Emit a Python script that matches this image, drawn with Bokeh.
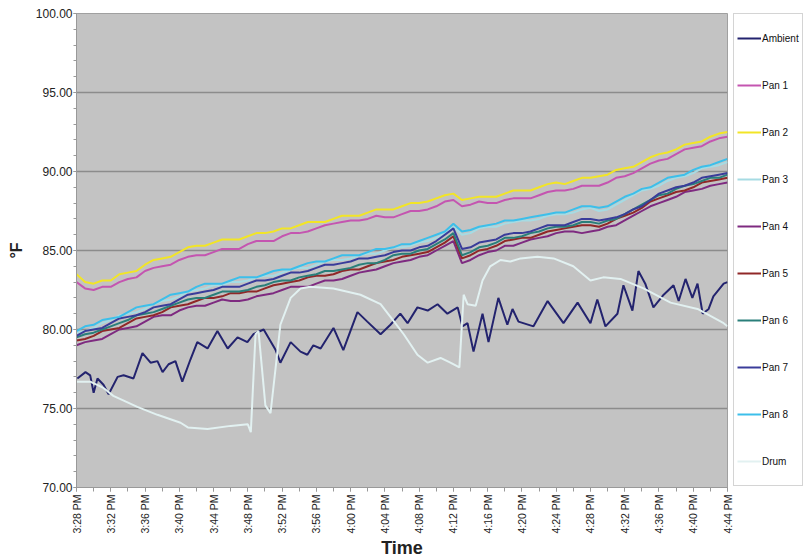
from bokeh.plotting import figure
from bokeh.layouts import row
from bokeh.models import FixedTicker, Range1d, Legend, LegendItem, NumeralTickFormatter
from bokeh.embed import file_html
from bokeh.resources import INLINE
import math

# ---------------- data (x = minutes after 3:28 PM) ----------------
tick_minutes = [0, 4, 8, 12, 16, 20, 24, 28, 32, 36, 40, 44, 48, 52, 56, 60, 64, 68, 72, 76]
tick_labels = ["3:28 PM", "3:32 PM", "3:36 PM", "3:40 PM", "3:44 PM", "3:48 PM", "3:52 PM",
               "3:56 PM", "4:00 PM", "4:04 PM", "4:08 PM", "4:12 PM", "4:16 PM", "4:20 PM",
               "4:24 PM", "4:28 PM", "4:32 PM", "4:36 PM", "4:40 PM", "4:44 PM"]
y_ticks = [70, 75, 80, 85, 90, 95, 100]

pan_t = list(range(0, 77))  # one reading per minute

pan1 = [83.0, 82.6, 82.5, 82.7, 82.7, 83.0, 83.2, 83.3, 83.7, 83.9,
        84.0, 84.1, 84.4, 84.6, 84.7, 84.7, 84.9, 85.1, 85.1, 85.1,
        85.4, 85.6, 85.6, 85.6, 85.9, 86.1, 86.1, 86.2, 86.4, 86.6,
        86.7, 86.8, 86.9, 86.9, 87.0, 87.2, 87.1, 87.1, 87.3, 87.5,
        87.5, 87.6, 87.8, 88.1, 88.2, 87.8, 87.9, 88.1, 88.0, 88.0,
        88.2, 88.3, 88.3, 88.3, 88.5, 88.7, 88.8, 88.8, 88.9, 89.1,
        89.1, 89.1, 89.3, 89.6, 89.7, 89.9, 90.2, 90.5, 90.7, 90.8,
        91.1, 91.4, 91.5, 91.6, 91.9, 92.1, 92.2]
pan2 = [83.5, 83.0, 82.9, 83.1, 83.1, 83.5, 83.6, 83.7, 84.1, 84.4,
        84.5, 84.6, 84.9, 85.2, 85.3, 85.3, 85.5, 85.7, 85.7, 85.7,
        85.9, 86.1, 86.1, 86.2, 86.4, 86.4, 86.6, 86.8, 86.8, 86.8,
        87.0, 87.2, 87.2, 87.2, 87.4, 87.6, 87.6, 87.6, 87.8, 88.0,
        88.0, 88.1, 88.3, 88.5, 88.6, 88.2, 88.3, 88.4, 88.4, 88.4,
        88.6, 88.8, 88.8, 88.8, 89.0, 89.2, 89.3, 89.2, 89.4, 89.6,
        89.6, 89.7, 89.8, 90.1, 90.2, 90.3, 90.6, 90.9, 91.1, 91.2,
        91.4, 91.7, 91.8, 91.9, 92.2, 92.4, 92.5]
pan3 = [79.8, 79.9, 80.1, 80.4, 80.6, 80.9, 81.0, 81.1, 81.3, 81.6,
        81.8, 81.9, 82.1, 82.4, 82.5, 82.6, 82.8, 82.8, 83.0, 83.0,
        83.1, 83.3, 83.4, 83.4, 83.6, 83.8, 83.9, 83.9, 84.1, 84.3,
        84.4, 84.4, 84.5, 84.7, 84.8, 84.8, 85.0, 85.2, 85.2, 85.3,
        85.5, 85.6, 85.8, 86.1, 86.5, 86.0, 86.1, 86.4, 86.5, 86.5,
        86.7, 86.8, 86.9, 86.9, 87.0, 87.2, 87.3, 87.3, 87.4, 87.6,
        87.7, 87.5, 87.6, 87.9, 88.2, 88.5, 88.8, 88.9, 89.1, 89.4,
        89.6, 89.7, 89.9, 90.2, 90.3, 90.4, 90.6]
pan4 = [79.0, 79.2, 79.3, 79.4, 79.7, 80.0, 80.1, 80.2, 80.5, 80.8,
        80.9, 80.9, 81.2, 81.4, 81.5, 81.5, 81.7, 81.9, 81.8, 81.8,
        81.9, 82.1, 82.2, 82.3, 82.5, 82.7, 82.7, 82.7, 82.9, 83.1,
        83.1, 83.2, 83.4, 83.6, 83.7, 83.8, 84.0, 84.2, 84.3, 84.4,
        84.6, 84.7, 85.0, 85.3, 85.6, 84.2, 84.4, 84.7, 84.9, 85.0,
        85.3, 85.3, 85.5, 85.7, 85.8, 85.9, 86.1, 86.2, 86.2, 86.1,
        86.2, 86.3, 86.5, 86.6, 86.9, 87.2, 87.5, 87.8, 88.0, 88.2,
        88.4, 88.7, 88.8, 88.9, 89.1, 89.2, 89.3]
pan5 = [79.3, 79.4, 79.6, 79.9, 80.0, 80.1, 80.4, 80.7, 80.8, 80.9,
        81.1, 81.4, 81.5, 81.6, 81.8, 82.0, 82.0, 82.1, 82.3, 82.3,
        82.4, 82.4, 82.6, 82.8, 82.9, 83.0, 83.1, 83.3, 83.4, 83.4,
        83.5, 83.7, 83.8, 83.8, 84.0, 84.2, 84.3, 84.4, 84.6, 84.7,
        84.8, 84.9, 85.2, 85.5, 85.9, 84.5, 84.7, 85.0, 85.1, 85.3,
        85.6, 85.7, 85.8, 85.8, 86.0, 86.2, 86.3, 86.4, 86.5, 86.6,
        86.6, 86.5, 86.7, 87.0, 87.2, 87.4, 87.7, 88.1, 88.3, 88.5,
        88.7, 88.8, 89.0, 89.3, 89.4, 89.5, 89.6]
pan6 = [79.5, 79.7, 79.8, 80.0, 80.2, 80.4, 80.6, 80.9, 81.0, 81.1,
        81.3, 81.5, 81.7, 81.9, 82.0, 82.0, 82.2, 82.4, 82.4, 82.4,
        82.5, 82.7, 82.8, 83.0, 83.1, 83.1, 83.3, 83.4, 83.5, 83.7,
        83.7, 83.8, 83.9, 84.1, 84.2, 84.2, 84.4, 84.7, 84.8, 84.8,
        85.0, 85.1, 85.4, 85.7, 86.1, 84.7, 84.9, 85.2, 85.3, 85.5,
        85.8, 85.8, 85.9, 86.1, 86.2, 86.4, 86.5, 86.5, 86.6, 86.8,
        86.8, 86.7, 86.9, 87.0, 87.3, 87.6, 87.9, 88.2, 88.5, 88.6,
        88.9, 89.1, 89.2, 89.4, 89.6, 89.6, 89.8]
pan7 = [79.6, 79.9, 80.0, 80.1, 80.4, 80.7, 80.8, 80.9, 81.1, 81.4,
        81.5, 81.6, 81.9, 82.2, 82.3, 82.4, 82.5, 82.7, 82.7, 82.7,
        82.9, 83.1, 83.1, 83.2, 83.4, 83.6, 83.6, 83.7, 83.9, 84.1,
        84.1, 84.2, 84.3, 84.5, 84.5, 84.6, 84.7, 84.9, 85.0, 85.0,
        85.2, 85.3, 85.6, 86.0, 86.4, 85.1, 85.2, 85.5, 85.6, 85.7,
        86.0, 86.1, 86.1, 86.2, 86.4, 86.6, 86.6, 86.6, 86.8, 87.0,
        87.0, 86.9, 87.0, 87.1, 87.3, 87.6, 87.8, 88.2, 88.6, 88.8,
        89.0, 89.1, 89.3, 89.6, 89.7, 89.8, 89.9]
pan8 = [79.9, 80.2, 80.3, 80.6, 80.7, 80.8, 81.1, 81.4, 81.5, 81.6,
        81.9, 82.2, 82.3, 82.4, 82.7, 82.9, 82.9, 82.9, 83.1, 83.3,
        83.3, 83.3, 83.5, 83.7, 83.8, 83.8, 84.0, 84.2, 84.3, 84.3,
        84.5, 84.7, 84.7, 84.7, 84.9, 85.1, 85.1, 85.2, 85.4, 85.4,
        85.6, 85.8, 86.0, 86.2, 86.7, 86.2, 86.3, 86.5, 86.6, 86.7,
        86.9, 86.9, 87.0, 87.1, 87.2, 87.3, 87.4, 87.4, 87.6, 87.8,
        87.8, 87.7, 87.8, 88.1, 88.4, 88.6, 88.9, 89.0, 89.3, 89.6,
        89.7, 89.8, 90.1, 90.3, 90.4, 90.6, 90.8]

ambient_t = [0.1, 1.05, 1.6, 2.0, 2.45, 3.15, 3.75, 4.8, 5.5, 6.65, 7.7, 8.65, 9.45, 10.05,
             10.75, 11.55, 12.35, 13.3, 14.1, 15.3, 16.45, 17.65, 18.8, 19.95, 20.65, 21.85,
             23.25, 23.8, 25.0, 26.15, 26.95, 27.65, 28.5, 30.0, 31.15, 32.8, 33.95, 35.5,
             36.65, 37.8, 38.65, 39.8, 41.0, 42.15, 43.3, 44.5, 45.05, 45.65, 46.35, 47.4,
             48.1, 49.25, 50.3, 50.9, 51.6, 53.35, 55.0, 56.85, 58.5, 60.0, 60.8, 61.75,
             63.15, 63.85, 64.9, 65.6, 66.4, 67.35, 68.55, 69.7, 70.3, 71.1, 71.9, 72.5,
             73.1, 73.8, 74.35, 75.55, 76.0]
ambient = [76.9, 77.3, 77.1, 76.0, 76.9, 76.5, 75.9, 77.0, 77.1, 76.9, 78.5, 77.9, 78.0, 77.3,
           77.8, 78.0, 76.7, 78.1, 79.2, 78.8, 79.9, 78.8, 79.5, 79.2, 79.7, 80.0,
           78.7, 77.9, 79.2, 78.6, 78.4, 79.0, 78.8, 80.1, 78.7, 81.1, 80.5, 79.7,
           80.3, 81.0, 80.4, 81.4, 81.2, 81.6, 81.0, 81.4, 80.2, 80.4, 78.6, 81.0,
           79.2, 82.0, 80.3, 81.3, 80.5, 80.2, 81.8, 80.4, 81.7, 80.4, 81.9, 80.2,
           81.0, 82.8, 81.2, 83.7, 82.9, 81.4, 82.2, 82.8, 81.8, 83.2, 82.0, 82.9,
           81.0, 81.3, 82.1, 82.9, 83.0]

drum_t = [0.0, 1.6, 3.15, 4.3, 7.1, 9.45, 12.15, 13.0, 15.3, 18.0, 20.0, 20.35, 20.9, 21.25,
          22.05, 22.65, 23.25, 23.8, 25.0, 26.15, 27.3, 30.0, 33.15, 35.5, 36.65, 38.2,
          39.8, 41.0, 42.5, 43.65, 44.7, 45.2, 45.65, 46.6, 47.4, 48.3, 49.5, 50.65, 51.85,
          53.8, 55.7, 58.0, 60.0, 61.5, 63.5, 66.2, 69.35, 72.5, 75.55, 76.0]
drum = [76.7, 76.7, 76.3, 75.8, 75.1, 74.6, 74.1, 73.8, 73.7, 73.9, 74.0, 73.5, 79.7, 79.9,
        75.2, 74.7, 77.6, 80.3, 82.0, 82.6, 82.7, 82.6, 82.2, 81.6, 80.8, 79.7,
        78.4, 77.9, 78.2, 77.9, 77.6, 82.2, 81.6, 81.5, 83.1, 84.0, 84.4, 84.3, 84.5,
        84.6, 84.5, 84.0, 83.1, 83.3, 83.2, 82.6, 81.7, 81.3, 80.4, 80.2]

series_names = ["Ambient", "Pan 1", "Pan 2", "Pan 3", "Pan 4", "Pan 5", "Pan 6", "Pan 7", "Pan 8", "Drum"]
series_colors = ["#23236e", "#c455b0", "#f2e526", "#a6dbe3", "#7e2a80", "#902828",
                 "#2a7f7a", "#3a3c9a", "#3cbfea", "#e2f1f1"]
series_x = [ambient_t, pan_t, pan_t, pan_t, pan_t, pan_t, pan_t, pan_t, pan_t, drum_t]
series_y = [ambient, pan1, pan2, pan3, pan4, pan5, pan6, pan7, pan8, drum]

FONT = "Liberation Sans"

# ---------------- main chart ----------------
p = figure(width=733, height=560, x_range=Range1d(0, 76), y_range=Range1d(70, 100),
           output_backend="svg", toolbar_location=None,
           min_border_left=76, min_border_top=13, min_border_right=6, min_border_bottom=0)
p.background_fill_color = "#c3c3c3"
p.border_fill_color = "white"
p.outline_line_color = "#a0a0a0"
p.outline_line_width = 1

p.xaxis.ticker = FixedTicker(ticks=tick_minutes, minor_ticks=list(range(0, 77, 2)))
p.xaxis.major_label_overrides = {m: lab for m, lab in zip(tick_minutes, tick_labels)}
p.xaxis.major_label_orientation = math.pi / 2
p.xaxis.major_label_text_font = FONT
p.xaxis.major_label_text_font_size = "10.5px"
p.xaxis.major_label_text_color = "#222222"
p.xaxis.major_label_standoff = 3
p.xaxis.major_tick_in = 0
p.xaxis.major_tick_out = 4
p.xaxis.minor_tick_in = 0
p.xaxis.minor_tick_out = 4
p.xaxis.axis_label = "Time"
p.xaxis.axis_label_text_font = FONT
p.xaxis.axis_label_text_font_style = "bold"
p.xaxis.axis_label_text_font_size = "18px"
p.xaxis.axis_label_text_color = "#222222"
p.xaxis.axis_label_standoff = 1

p.yaxis.ticker = FixedTicker(ticks=y_ticks, minor_ticks=list(range(70, 101)))
p.yaxis.formatter = NumeralTickFormatter(format="0.00")
p.yaxis.major_label_text_font = FONT
p.yaxis.major_label_text_font_size = "12px"
p.yaxis.major_label_text_color = "#222222"
p.yaxis.major_label_standoff = 1
p.yaxis.major_tick_in = 0
p.yaxis.major_tick_out = 3
p.yaxis.minor_tick_in = 0
p.yaxis.minor_tick_out = 3
p.yaxis.axis_label = "°F"
p.yaxis.axis_label_text_font = FONT
p.yaxis.axis_label_text_font_style = "bold"
p.yaxis.axis_label_text_font_size = "16px"
p.yaxis.axis_label_text_color = "#222222"
p.yaxis.axis_label_standoff = 8

for ax in (p.xaxis, p.yaxis):
    ax.axis_line_color = "#999999"
    ax.major_tick_line_color = "#999999"
    ax.minor_tick_line_color = "#999999"

p.xgrid.visible = False
p.ygrid.ticker = FixedTicker(ticks=[75, 80, 85, 90, 95])
p.ygrid.grid_line_color = "#8c8c8c"
p.ygrid.grid_line_width = 1.5

for col, xs, ys in zip(series_colors, series_x, series_y):
    p.line(xs, ys, line_color=col, line_width=2)

# ---------------- legend panel (its ranges keep the series out of view) ----------------
pl = figure(width=71, height=560, x_range=Range1d(200, 201), y_range=Range1d(0, 1),
            output_backend="svg", toolbar_location=None,
            x_axis_location=None, y_axis_location=None,
            min_border_left=0, min_border_right=0, min_border_top=6, min_border_bottom=0)
pl.xgrid.visible = False
pl.ygrid.visible = False
pl.outline_line_color = None
pl.background_fill_color = "white"
pl.border_fill_color = "white"

items = []
for name, col, xs, ys in zip(series_names, series_colors, series_x, series_y):
    r = pl.line(xs, ys, line_color=col, line_width=2)
    items.append(LegendItem(label=name, renderers=[r]))

legend = Legend(items=items, location="top_left", orientation="vertical")
legend.glyph_width = 24
legend.glyph_height = 42
legend.spacing = 5
legend.padding = 3
legend.margin = 0
legend.label_standoff = 1
legend.label_text_font = FONT
legend.label_text_font_size = "10px"
legend.label_text_color = "#111111"
legend.border_line_color = "#aaaaaa"
legend.background_fill_color = "white"
legend.background_fill_alpha = 1
pl.add_layout(legend, "center")

layout = row(p, pl, spacing=0)
open("out.html", "w").write(file_html(layout, INLINE))
